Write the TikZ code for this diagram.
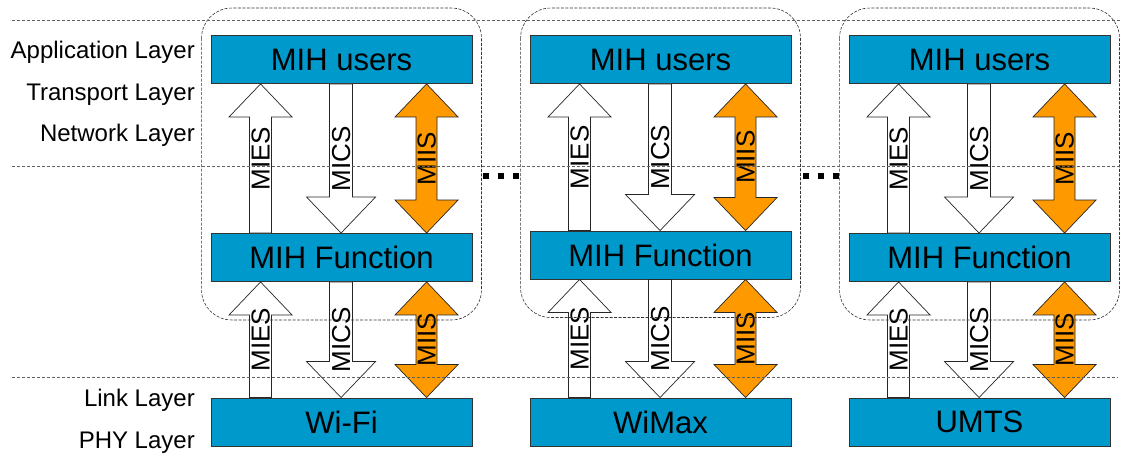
\documentclass[tikz,border=0pt]{standalone}
\usepackage{fontspec}
\setmainfont{Liberation Sans}
\usetikzlibrary{calc}

\definecolor{mihblue}{HTML}{0099CC}
\definecolor{miisorange}{HTML}{FF9900}
\definecolor{guide}{HTML}{606060}

\tikzset{
  layerbox/.style={draw=black!80, line width=0.9pt, fill=mihblue, inner sep=0pt,
    minimum width=261pt, minimum height=48pt, font=\fontsize{31}{31}\selectfont},
  layername/.style={anchor=base east, inner sep=0pt, font=\fontsize{24}{24}\selectfont},
  hollow/.style={draw=black!85, line width=0.7pt, fill=white, line join=miter},
  filled/.style={draw=black!85, line width=0.7pt, fill=miisorange, line join=miter},
  flowlabel/.style={rotate=90, inner sep=0pt, font=\fontsize{26}{26}\selectfont},
  guideline/.style={draw=guide, line width=0.7pt, dash pattern=on 3pt off 2pt},
  groupline/.style={draw=black!80, line width=0.6pt, dash pattern=on 3pt off 1.5pt, rounded corners=30pt},
  dotrun/.style={line width=6pt, dash pattern=on 6pt off 9pt}
}

% upward block arrow: #1 lower node, #2 upper node, #3 offset from west side, #4 label, #5 label name
\newcommand{\mihUp}[5]{%
  \draw[hollow] let \p1=($(#1.north west)+(#3,0)$), \p2=($(#2.south west)+(#3,0)$) in
    (\x1-11pt,\y1) -- (\x1-11pt,\y2-33pt) -- (\x1-31.5pt,\y2-33pt) -- (\x2,\y2)
    -- (\x1+31.5pt,\y2-33pt) -- (\x1+11pt,\y2-33pt) -- (\x1+11pt,\y1) -- cycle
    (\x1,{0.5*\y1+0.5*\y2}) node[flowlabel] (#5) {#4};}

% downward block arrow: #1 upper node, #2 lower node
\newcommand{\mihDown}[5]{%
  \draw[hollow] let \p1=($(#1.south west)+(#3,0)$), \p2=($(#2.north west)+(#3,0)$) in
    (\x1-11.5pt,\y1) -- (\x1-11.5pt,\y2+36pt) -- (\x1-34.5pt,\y2+36pt) -- (\x2,\y2)
    -- (\x1+34.5pt,\y2+36pt) -- (\x1+11.5pt,\y2+36pt) -- (\x1+11.5pt,\y1) -- cycle
    (\x1,{0.5*\y1+0.5*\y2}) node[flowlabel] (#5) {#4};}

% two-headed block arrow: #1 lower node, #2 upper node
\newcommand{\mihBoth}[5]{%
  \draw[filled] let \p1=($(#1.north west)+(#3,0)$), \p2=($(#2.south west)+(#3,0)$) in
    (\x1,\y1) -- (\x1-31.5pt,\y1+33pt) -- (\x1-10.5pt,\y1+33pt) -- (\x1-10.5pt,\y2-33pt)
    -- (\x1-31.5pt,\y2-33pt) -- (\x2,\y2) -- (\x1+31.5pt,\y2-33pt) -- (\x1+10.5pt,\y2-33pt)
    -- (\x1+10.5pt,\y1+33pt) -- (\x1+31.5pt,\y1+33pt) -- cycle
    (\x1,{0.5*\y1+0.5*\y2}) node[flowlabel] (#5) {#4};}

% one protocol stack: #1 suffix, #2 centre x, #3 centre y of MIH Function, #4 link technology
\newcommand{\mihStack}[4]{%
  \node[layerbox] (u#1) at (#2,59.5) {MIH users};
  \node[layerbox] (f#1) at (#2,#3) {MIH Function};
  \node[layerbox] (l#1) at (#2,422) {#4};
  \mihUp{f#1}{u#1}{50}{MIES}{esu#1}
  \mihDown{u#1}{f#1}{130.5}{MICS}{csu#1}
  \mihBoth{f#1}{u#1}{216}{MIIS}{isu#1}
  \mihUp{l#1}{f#1}{50}{MIES}{esl#1}
  \mihDown{f#1}{l#1}{130.5}{MICS}{csl#1}
  \mihBoth{l#1}{f#1}{216}{MIIS}{isl#1}
  \draw[groupline] ($(u#1.north west)+(-9,-27)$) rectangle ($(f#1.south east)+(9,38)$);}

\begin{document}
\begin{tikzpicture}[x=1pt, y=-1pt]
  \useasboundingbox (0,0) rectangle (1121,476);

  % layer names
  \node[layername] (app) at (195,59) {Application Layer};
  \node[layername] (tra) at (195,101) {Transport Layer};
  \node[layername] (net) at (195,142) {Network Layer};
  \node[layername] (lnk) at (195,406.5) {Link Layer};
  \node[layername] (phy) at (195,448.5) {PHY Layer};

  % the three stacks
  \mihStack{1}{341.5}{257.5}{Wi-Fi}
  \mihStack{2}{660.5}{255}{WiMax}
  \mihStack{3}{979.5}{257.5}{UMTS}

  % ellipses between stacks
  \coordinate (d1a) at (483,176); \coordinate (d1b) at (520,176);
  \coordinate (d2a) at (803,176); \coordinate (d2b) at (840,176);
  \draw[dotrun] (d1a) -- (d1b);
  \draw[dotrun] (d2a) -- (d2b);

  % layer boundaries
  \coordinate (g1a) at (12,20);  \coordinate (g1b) at (1120,20);
  \coordinate (g2a) at (12,166); \coordinate (g2b) at (1120,166);
  \coordinate (g3a) at (12,377); \coordinate (g3b) at (1118,377);
  \draw[guideline] (g1a) -- (g1b);
  \draw[guideline] (g2a) -- (g2b);
  \draw[guideline] (g3a) -- (g3b);
\end{tikzpicture}
\end{document}
